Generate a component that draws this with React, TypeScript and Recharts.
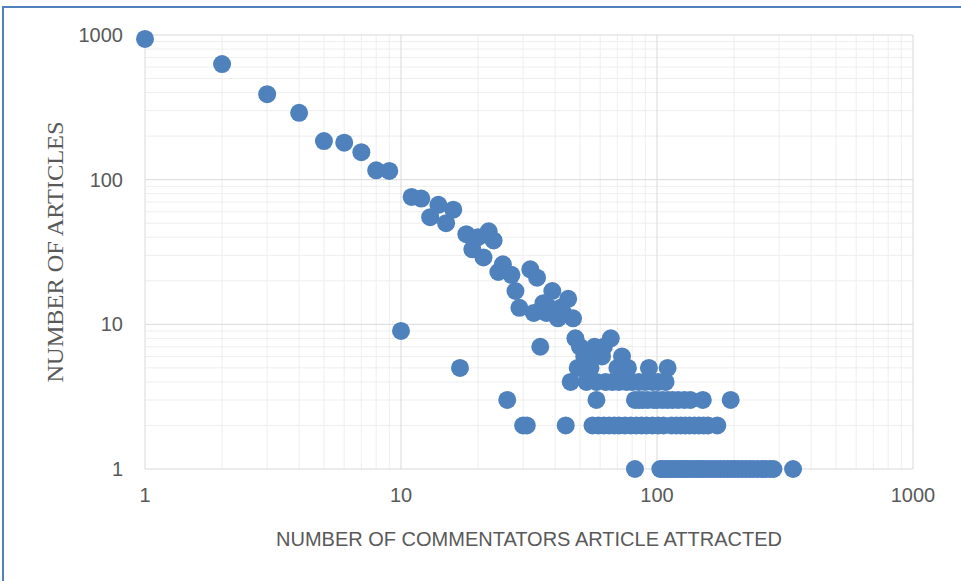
import React from "react"
import { ScatterChart, Scatter, XAxis, YAxis, ReferenceLine } from "recharts"

// articles with many commentators each (one point per commentator count)
const headCommentators = [
  1, 2, 3, 4, 5, 6, 7, 8, 9, 10, 11, 12, 13, 14, 15, 16, 17, 18, 19, 20, 21, 22, 23, 24, 25,
  26, 27, 28, 29, 30, 31, 32, 33, 34, 35, 36, 37, 38, 39, 40, 41, 42, 43, 44, 45, 47
]
const headArticles = [
  940, 630, 390, 290, 185, 180, 155, 116, 115, 9, 76, 74, 55, 67, 50, 62, 5, 42, 33, 40, 29, 44, 38, 23, 26,
  3, 22, 17, 13, 2, 2, 24, 12, 21, 7, 14, 12, 13, 17, 12, 11, 13, 12, 2, 15, 11
]

// tail rows: commentator counts that share the same number of articles
const eightArticles = [48, 66]
const sevenArticles = [50, 57, 62]
const sixArticles = [52, 54, 61, 73]
const fiveArticles = [49, 55, 70, 77, 93, 110]
const fourArticles = [46, 53, 58, 63, 67, 71, 76, 80, 85, 90, 96, 101, 108]
const threeArticles = [58, 82, 85, 88, 92, 97, 100, 105, 110, 115, 121, 128, 135, 151, 194]
const twoArticles = [
  56, 59, 62, 65, 68, 71, 75, 79, 83, 87, 91, 96, 101, 106, 114, 119, 124, 129, 134, 140, 146, 152, 158, 172
]
const oneArticle = [
  82, 103, 105, 108, 111, 114, 117, 120, 123, 126, 129, 132, 136, 140, 144, 148, 152, 157, 162, 167, 172,
  177, 183, 189, 195, 201, 208, 215, 222, 230, 238, 247, 256, 266, 276, 285, 340
]

const majorTicks = [1, 10, 100, 1000]
const minorTicks = [2, 3, 4, 5, 6, 7, 8, 9, 20, 30, 40, 50, 60, 70, 80, 90, 200, 300, 400, 500, 600, 700, 800, 900]

const rows: [number, number[]][] = [
  [8, eightArticles],
  [7, sevenArticles],
  [6, sixArticles],
  [5, fiveArticles],
  [4, fourArticles],
  [3, threeArticles],
  [2, twoArticles],
  [1, oneArticle]
]

const data = [
  ...headCommentators.map((c, i) => ({ x: c, y: headArticles[i] })),
  ...rows.flatMap(([n, list]) => list.map((c) => ({ x: c, y: n })))
]

const blue = "#4F81BD"
const textGray = "#595959"
const sans = "'Liberation Sans', Arial, sans-serif"

const Dot = (p: any) => <circle cx={p.cx} cy={p.cy} r={9} fill={blue} />

const XTitle = (p: any) => {
  const vb = p.viewBox
  return (
    <text
      x={vb.x + vb.width / 2}
      y={546}
      textAnchor="middle"
      fill={textGray}
      fontSize={20}
      fontFamily={sans}
      textLength={506}
      lengthAdjust="spacingAndGlyphs"
    >
      NUMBER OF COMMENTATORS ARTICLE ATTRACTED
    </text>
  )
}

const YTitle = (p: any) => {
  const vb = p.viewBox
  const cy = vb.y + vb.height / 2
  return (
    <text
      x={63}
      y={cy}
      transform={`rotate(-90, 63, ${cy})`}
      textAnchor="middle"
      fill={textGray}
      fontSize={24}
      fontFamily="'Liberation Serif', 'Times New Roman', serif"
      textLength={261}
      lengthAdjust="spacingAndGlyphs"
    >
      NUMBER  OF  ARTICLES
    </text>
  )
}

export default function App() {
  return (
    <div
      style={{
        position: "absolute",
        left: 0,
        top: 0,
        width: 961,
        height: 581,
        overflow: "hidden",
        background: "#fff"
      }}
    >
      <div
        style={{
          position: "absolute",
          left: 2,
          top: 6,
          width: 1100,
          height: 700,
          border: `2px solid ${blue}`
        }}
      />
      <div style={{ position: "absolute", left: 0, top: 0 }}>
        <ScatterChart width={961} height={581} margin={{ top: 35, right: 48, bottom: 0, left: 0 }}>
          <XAxis
            type="number"
            dataKey="x"
            scale="log"
            domain={[1, 1000]}
            ticks={majorTicks}
            axisLine={false}
            tickLine={false}
            tickSize={0}
            tickMargin={19}
            height={112}
            tick={{ fill: textGray, fontSize: 20, fontFamily: sans }}
            label={{ content: <XTitle /> }}
          />
          <YAxis
            type="number"
            dataKey="y"
            scale="log"
            domain={[1, 1000]}
            ticks={majorTicks}
            axisLine={false}
            tickLine={false}
            tickSize={0}
            tickMargin={22}
            width={145}
            tick={{ fill: textGray, fontSize: 20, fontFamily: sans }}
            label={{ content: <YTitle /> }}
          />
          {minorTicks.map((v) => (
            <ReferenceLine key={"mx" + v} x={v} stroke="#eeeeee" strokeWidth={1} />
          ))}
          {minorTicks.map((v) => (
            <ReferenceLine key={"my" + v} y={v} stroke="#eeeeee" strokeWidth={1} />
          ))}
          {majorTicks.map((v) => (
            <ReferenceLine key={"Mx" + v} x={v} stroke="#d9d9d9" strokeWidth={1} />
          ))}
          {majorTicks.map((v) => (
            <ReferenceLine key={"My" + v} y={v} stroke="#d9d9d9" strokeWidth={1} />
          ))}
          <Scatter data={data} shape={<Dot />} isAnimationActive={false} />
        </ScatterChart>
      </div>
    </div>
  )
}
